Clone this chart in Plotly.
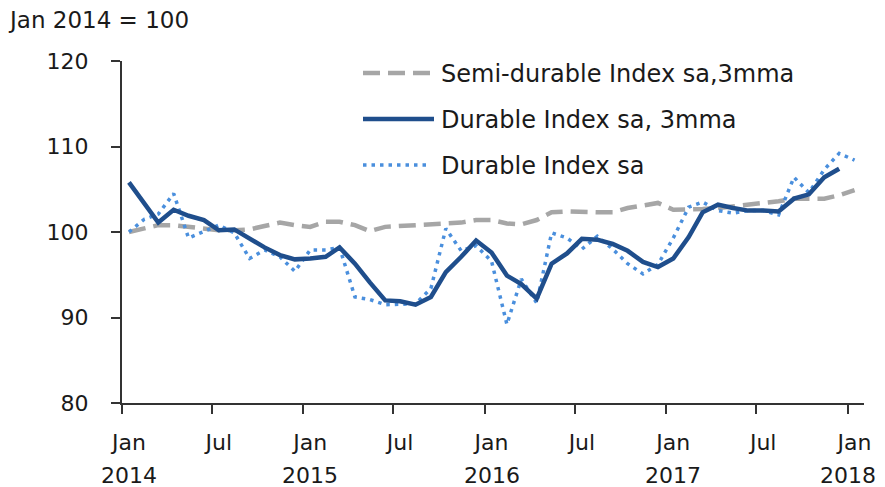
import pandas as pd
import plotly.graph_objects as go

# ---- data (monthly, Jan 2014 - Jan 2018) ----
months = pd.date_range("2014-01-01", "2018-01-01", freq="MS") + pd.Timedelta(days=14)

semi_durable_3mma = [100.0, 100.4, 100.8, 100.8, 100.6, 100.4, 100.2, 100.2, 100.3, 100.7, 101.1, 100.8,
                     100.6, 101.2, 101.2, 100.8, 100.1, 100.6, 100.7, 100.8, 100.8, 100.9, 101.1, 101.4,
                     101.4, 101.0, 100.9, 101.4, 102.3, 102.4, 102.3, 102.3, 102.3, 102.8, 103.1, 103.4,
                     102.6, 102.6, 102.7, 102.8, 103.0, 103.1, 103.4, 103.6, 103.9, 103.9, 103.9, 104.3,
                     104.9]

durable_3mma = [105.8, 103.4, 101.1, 102.6, 101.9, 101.4, 100.2, 100.3, 99.2, 98.2, 97.3, 96.8,
                96.9, 97.1, 98.2, 96.3, 94.1, 92.0, 91.9, 91.5, 92.4, 95.3, 97.1, 99.0,
                97.6, 94.9, 93.9, 92.2, 96.3, 97.5, 99.2, 99.1, 98.6, 97.8, 96.5, 95.9,
                96.9, 99.4, 102.3, 103.2, 102.8, 102.5, 102.5, 102.4, 103.9, 104.4, 106.4, 107.4]

durable_sa = [100.0, 101.5, 102.1, 104.5, 99.3, 100.1, 100.8, 99.9, 96.9, 97.9, 97.1, 95.4,
              97.9, 97.9, 98.2, 92.4, 92.1, 91.5, 91.5, 91.6, 93.4, 100.4, 97.8, 98.4,
              96.6, 89.2, 94.5, 91.7, 99.9, 99.3, 98.0, 99.5, 98.0, 96.3, 95.1, 96.2,
              99.3, 102.9, 103.5, 102.5, 102.2, 102.5, 102.5, 102.0, 106.4, 104.6, 107.3, 109.2,
              108.4]

series_names = ["Semi-durable Index sa,3mma", "Durable Index sa, 3mma", "Durable Index sa"]

# month labels sit at mid-month (under the data points); tick marks at the 1st
label_dates = ["2014-01-15", "2014-07-15", "2015-01-15", "2015-07-15", "2016-01-15",
               "2016-07-15", "2017-01-15", "2017-07-15", "2018-01-15"]
month_labels = ["Jan", "Jul", "Jan", "Jul", "Jan", "Jul", "Jan", "Jul", "Jan"]
year_dates = ["2014-01-15", "2015-01-15", "2016-01-15", "2017-01-15", "2018-01-15"]
year_labels = ["2014", "2015", "2016", "2017", "2018"]

GRAY = "#a6a6a6"
NAVY = "#1f4e8c"
LIGHT = "#4a8fdd"
TXT = "#1a1a1a"
FONT = "DejaVu Sans"

fig = go.Figure()
fig.add_trace(go.Scatter(x=months, y=semi_durable_3mma, mode="lines", name=series_names[0],
                         line=dict(color=GRAY, width=4.5, dash="17px,8px")))
fig.add_trace(go.Scatter(x=months, y=durable_sa, mode="lines", name=series_names[2],
                         line=dict(color=LIGHT, width=3.5, dash="3.5px,5px")))
fig.add_trace(go.Scatter(x=months[:len(durable_3mma)], y=durable_3mma, mode="lines", name=series_names[1],
                         line=dict(color=NAVY, width=4.5)))

# page has an 8px body margin; target plot area in window px: x 122..864, y 61..403
OFF = 8
W, H = 885 - OFF, 487 - OFF
L, R, T, B = 122 - OFF, W + OFF - 864, 61 - OFF, 84
pw, ph = W - L - R, H - T - B

def px(x):
    return (x - OFF - L) / pw

def py(y):
    return (H - B - (y - OFF)) / ph

# custom legend (line samples + labels), positions in window px
legend_rows = [
    (series_names[0], GRAY, 4.5, "17px,8px", 73, 0.0),
    (series_names[1], NAVY, 4.5, "solid", 119, 4.0),
    (series_names[2], LIGHT, 3.5, "3.5px,5px", 165, 0.0),
]
shapes = []
annotations = []
for name, col, wdt, dsh, yy, extra in legend_rows:
    shapes.append(dict(type="line", xref="paper", yref="paper",
                       x0=px(363), x1=px(430 + extra), y0=py(yy), y1=py(yy),
                       line=dict(color=col, width=wdt, dash=dsh)))
    annotations.append(dict(xref="paper", yref="paper", x=px(439), y=py(yy + 1),
                            xanchor="left", yanchor="middle", showarrow=False,
                            text=name, font=dict(family=FONT, size=24, color=TXT)))

annotations.append(dict(xref="paper", yref="paper", x=px(6), y=py(20),
                        xanchor="left", yanchor="middle", showarrow=False,
                        text="Jan 2014 = 100", font=dict(family=FONT, size=23, color=TXT)))

# year row under the month labels
for i, (d, lab) in enumerate(zip(year_dates, year_labels)):
    annotations.append(dict(xref="x", yref="paper", x=d, y=py(475),
                            xanchor="center", yanchor="middle", showarrow=False,
                            xshift=-7 if i == len(year_labels) - 1 else 0,
                            text=lab, font=dict(family=FONT, size=22, color=TXT)))

fig.update_layout(
    width=W, height=H,
    margin=dict(l=L, r=R, t=T, b=B),
    paper_bgcolor="white", plot_bgcolor="white",
    showlegend=False,
    shapes=shapes,
    annotations=annotations,
    font=dict(family=FONT, size=22, color=TXT),
)
fig.update_xaxes(type="date", range=["2014-01-01", "2018-02-03"],
                 tickmode="array", tickvals=label_dates, ticktext=month_labels,
                 ticks="", ticklabelstandoff=19,
                 minor=dict(ticks="outside", dtick="M6", tick0="2014-01-01",
                            ticklen=9, tickwidth=2, tickcolor="#333", showgrid=False),
                 showline=True, linecolor="#333", linewidth=2,
                 showgrid=False, zeroline=False,
                 tickfont=dict(family=FONT, size=22, color=TXT))
fig.update_yaxes(range=[80, 120], dtick=10, tick0=80,
                 showline=True, linecolor="#333", linewidth=2,
                 ticks="outside", ticklen=9, tickwidth=2, tickcolor="#333",
                 showgrid=False, zeroline=False, ticklabelstandoff=18,
                 tickfont=dict(family=FONT, size=22, color=TXT))

fig.write_html("out.html")
